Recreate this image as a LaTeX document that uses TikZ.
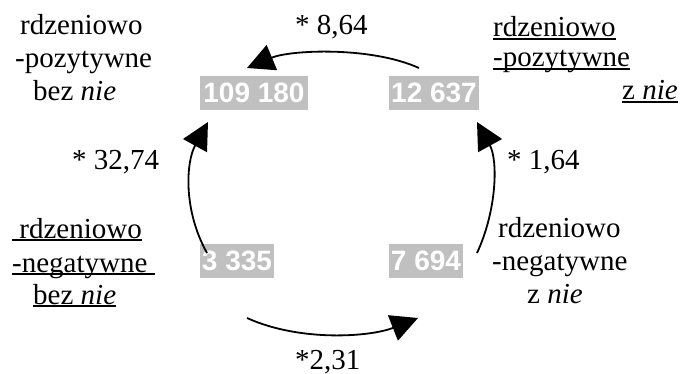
\documentclass[tikz,border=0pt]{standalone}
\usepackage{fontspec}
\setmainfont{Liberation Serif}
\newfontfamily\numfont{Liberation Sans}
\usetikzlibrary{arrows.meta}
\definecolor{boxgray}{RGB}{192,192,192}
\newsavebox\ulbox
\newcommand\ulx[1]{\sbox\ulbox{#1}\rlap{\rule[-2.8pt]{\wd\ulbox}{1.4pt}}\usebox\ulbox}
\begin{document}
\begin{tikzpicture}[x=1pt,y=-1pt,
  lbl/.style={anchor=base west, inner sep=0pt, font=\fontsize{29}{34}\selectfont},
  numbox/.style={fill=boxgray, text=white, inner sep=0pt, minimum height=34pt,
    font=\numfont\bfseries\fontsize{28}{34}\selectfont},
  conn/.style={line width=1.8pt, -{Triangle[length=27pt,width=27pt]}}]
\useasboundingbox (0,0) rectangle (680,374);
% boxes
\node[numbox, minimum width=108pt] (A) at (254,93) {109 180};
\node[numbox, minimum width=90pt]  (B) at (434,93) {12 637};
\node[numbox, minimum width=74pt]  (C) at (237,261) {3 335};
\node[numbox, minimum width=74pt]  (D) at (426,261) {7 694};
% labels top-left
\node[lbl] (tl1) at (20,35) {rdzeniowo};
\node[lbl] (tl2) at (15,68) {-pozytywne};
\node[lbl] (tl3) at (33,101) {bez \textit{nie}};
% labels top-right
\node[lbl] (tr1) at (493,37) {\ulx{rdzeniowo}};
\node[lbl] (tr2) at (493,67) {\ulx{-pozytywne}};
\node[lbl] (tr3) at (622,100) {\ulx{z \textit{nie}}};
% labels bottom-left
\node[lbl] (bl1) at (12,238) {\ulx{\ rdzeniowo}};
\node[lbl] (bl2) at (12,272) {\ulx{-negatywne\ }};
\node[lbl] (bl3) at (33,304) {\ulx{bez \textit{nie}}};
% labels bottom-right
\node[lbl] (br1) at (498,237) {rdzeniowo};
\node[lbl] (br2) at (492,270) {-negatywne};
\node[lbl] (br3) at (527,303) {z \textit{nie}};
% factors
\node[lbl] (f1) at (295,35) {* 8,64};
\node[lbl] (f2) at (72,170) {* 32,74};
\node[lbl] (f3) at (507,170) {* 1,64};
\node[lbl] (f4) at (295,369) {*2,31};
% connector ends
\coordinate (sB) at (419,68);
\coordinate (tA) at (247,68);
\coordinate (sC) at (207,253);
\coordinate (tA2) at (208,122);
\coordinate (sD) at (477,253);
\coordinate (tB) at (477,122);
\coordinate (sC2) at (247,318);
\coordinate (tD) at (418,318);
% connectors
\draw[conn] (sB) .. controls (370,46) and (290,50) .. (tA);
\draw[conn] (sC) .. controls (183,210) and (186,162) .. (tA2);
\draw[conn] (sD) .. controls (497,210) and (498,160) .. (tB);
\draw[conn] (sC2) .. controls (300,342) and (370,337) .. (tD);
\end{tikzpicture}
\end{document}
